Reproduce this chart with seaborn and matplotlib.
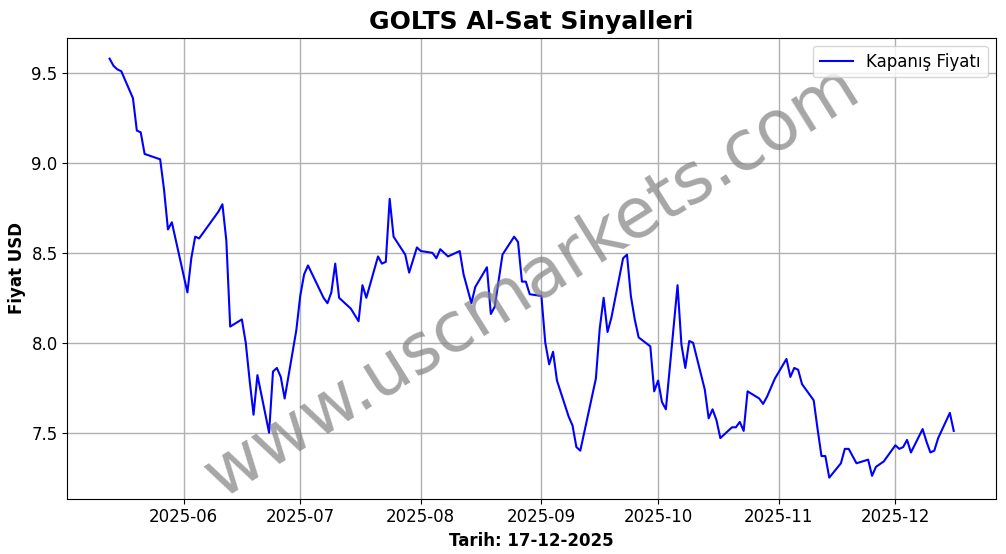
import pandas as pd
import seaborn as sns
import matplotlib.pyplot as plt

dates = ["2025-05-13", "2025-05-14", "2025-05-15", "2025-05-16", "2025-05-19", "2025-05-20",
         "2025-05-21", "2025-05-22", "2025-05-26", "2025-05-27", "2025-05-28", "2025-05-29",
         "2025-06-02", "2025-06-03", "2025-06-04", "2025-06-05", "2025-06-10", "2025-06-11",
         "2025-06-12", "2025-06-13", "2025-06-16", "2025-06-17", "2025-06-18", "2025-06-19",
         "2025-06-20", "2025-06-23", "2025-06-24", "2025-06-25", "2025-06-26", "2025-06-27",
         "2025-06-30", "2025-07-01", "2025-07-02", "2025-07-03", "2025-07-07", "2025-07-08",
         "2025-07-09", "2025-07-10", "2025-07-11", "2025-07-14", "2025-07-16", "2025-07-17",
         "2025-07-18", "2025-07-21", "2025-07-22", "2025-07-23", "2025-07-24", "2025-07-25",
         "2025-07-28", "2025-07-29", "2025-07-31", "2025-08-01", "2025-08-04", "2025-08-05",
         "2025-08-06", "2025-08-08", "2025-08-11", "2025-08-12", "2025-08-14", "2025-08-15",
         "2025-08-18", "2025-08-19", "2025-08-20", "2025-08-22", "2025-08-25", "2025-08-26",
         "2025-08-27", "2025-08-28", "2025-08-29", "2025-09-01", "2025-09-02", "2025-09-03",
         "2025-09-04", "2025-09-05", "2025-09-08", "2025-09-09", "2025-09-10", "2025-09-11",
         "2025-09-15", "2025-09-16", "2025-09-17", "2025-09-18", "2025-09-19", "2025-09-22",
         "2025-09-23", "2025-09-24", "2025-09-25", "2025-09-26", "2025-09-29", "2025-09-30",
         "2025-10-01", "2025-10-02", "2025-10-03", "2025-10-06", "2025-10-07", "2025-10-08",
         "2025-10-09", "2025-10-10", "2025-10-13", "2025-10-14", "2025-10-15", "2025-10-16",
         "2025-10-17", "2025-10-20", "2025-10-21", "2025-10-22", "2025-10-23", "2025-10-24",
         "2025-10-27", "2025-10-28", "2025-10-29", "2025-10-30", "2025-10-31", "2025-11-03",
         "2025-11-04", "2025-11-05", "2025-11-06", "2025-11-07", "2025-11-10", "2025-11-11",
         "2025-11-12", "2025-11-13", "2025-11-14", "2025-11-17", "2025-11-18", "2025-11-19",
         "2025-11-20", "2025-11-21", "2025-11-24", "2025-11-25", "2025-11-26", "2025-11-28",
         "2025-12-01", "2025-12-02", "2025-12-03", "2025-12-04", "2025-12-05", "2025-12-08",
         "2025-12-09", "2025-12-10", "2025-12-11", "2025-12-12", "2025-12-15", "2025-12-16"]
prices = [9.58, 9.54, 9.52, 9.51, 9.36, 9.18,
          9.17, 9.05, 9.02, 8.85, 8.63, 8.67,
          8.28, 8.47, 8.59, 8.58, 8.73, 8.77,
          8.57, 8.09, 8.13, 8.00, 7.79, 7.60,
          7.82, 7.50, 7.84, 7.86, 7.81, 7.69,
          8.07, 8.26, 8.38, 8.43, 8.25, 8.22,
          8.28, 8.44, 8.25, 8.19, 8.12, 8.32,
          8.25, 8.48, 8.44, 8.45, 8.80, 8.59,
          8.49, 8.39, 8.53, 8.51, 8.50, 8.47,
          8.52, 8.48, 8.51, 8.38, 8.22, 8.31,
          8.42, 8.16, 8.20, 8.49, 8.59, 8.56,
          8.34, 8.34, 8.27, 8.26, 8.00, 7.88,
          7.95, 7.79, 7.59, 7.54, 7.42, 7.40,
          7.80, 8.08, 8.25, 8.06, 8.14, 8.47,
          8.49, 8.26, 8.13, 8.03, 7.98, 7.73,
          7.79, 7.67, 7.63, 8.32, 7.99, 7.86,
          8.01, 8.00, 7.74, 7.58, 7.63, 7.57,
          7.47, 7.53, 7.53, 7.56, 7.51, 7.73,
          7.69, 7.66, 7.70, 7.75, 7.80, 7.91,
          7.81, 7.86, 7.85, 7.77, 7.68, 7.52,
          7.37, 7.37, 7.25, 7.33, 7.41, 7.41,
          7.37, 7.33, 7.35, 7.26, 7.31, 7.34,
          7.43, 7.41, 7.42, 7.46, 7.39, 7.52,
          7.45, 7.39, 7.40, 7.47, 7.61, 7.51]

df = pd.DataFrame({"Tarih": pd.to_datetime(dates), "Fiyat": prices})

fig, ax = plt.subplots(figsize=(10.06, 5.54), dpi=100)
sns.lineplot(data=df, x="Tarih", y="Fiyat", color="blue", linewidth=1.5,
             label="Kapanış Fiyatı", ax=ax)
ax.set_title("GOLTS Al-Sat Sinyalleri", fontsize=18, fontweight="bold")
ax.set_xlabel("Tarih: 17-12-2025", fontsize=12, fontweight="bold")
ax.set_ylabel("Fiyat USD", fontsize=12, fontweight="bold")
ax.tick_params(labelsize=12)
ax.grid(True, color="#b0b0b0", linewidth=1)
ax.legend(loc="upper right", fontsize=12)
ax.text(0.5, 0.47, "www.uscmarkets.com", transform=ax.transAxes, fontsize=50,
        color="gray", alpha=0.7, rotation=32, ha="center", va="center")
fig.subplots_adjust(left=0.067, right=0.99, top=0.932, bottom=0.1)
fig.savefig("out.png")
